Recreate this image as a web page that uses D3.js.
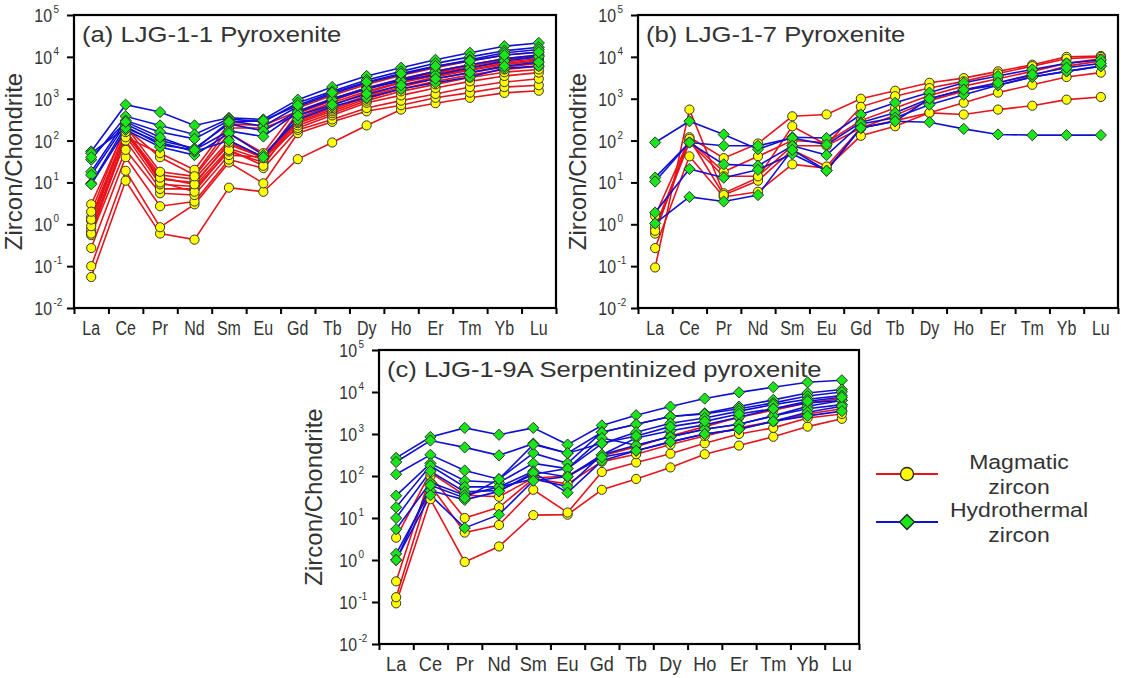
<!DOCTYPE html>
<html>
<head>
<meta charset="utf-8">
<script src="https://cdn.jsdelivr.net/npm/d3@7"></script>
<style>
  html, body { margin: 0; padding: 0; background: #fff; }
  svg { display: block; }
  text { font-family: Arial, "Liberation Sans", sans-serif; fill: #333; }
</style>
</head>
<body>
<svg id="chart" width="1121" height="678"></svg>
<script>
// Chondrite-normalised REE element order
const elements = ["La","Ce","Pr","Nd","Sm","Eu","Gd","Tb","Dy","Ho","Er","Tm","Yb","Lu"];
const yTickExponents = [-2, -1, 0, 1, 2, 3, 4, 5];

// (a) LJG-1-1 Pyroxenite
const magmaticA = [
  [0.055, 11, 0.6, 0.43, 7.5, 6, 36, 90, 230, 550, 780, 1050, 1380, 1550],
  [0.1, 19, 0.85, 3, 30, 9.5, 150, 280, 500, 700, 1050, 1400, 1900, 2100],
  [0.27, 40, 2.7, 3.5, 35, 22, 180, 320, 600, 900, 1300, 1900, 2500, 3000],
  [0.55, 60, 5.5, 5, 45, 40, 200, 400, 800, 1200, 1800, 2600, 3500, 4200],
  [0.65, 100, 7, 7, 55, 30, 230, 450, 900, 1500, 2200, 3200, 4300, 5000],
  [0.75, 130, 9, 8, 65, 35, 260, 500, 1000, 1700, 2600, 3700, 5000, 6000],
  [1.2, 150, 12, 10, 80, 40, 280, 550, 1100, 1900, 3000, 4200, 5700, 7000],
  [1.5, 170, 15, 12, 100, 40, 300, 600, 1200, 2100, 3300, 4800, 6500, 8000],
  [3, 200, 40, 15, 200, 200, 400, 800, 1500, 2500, 4000, 5500, 7500, 9000],
  [0.6, 120, 50, 20, 250, 230, 500, 1000, 1800, 3000, 4500, 6500, 9000, 11000],
  [0.9, 180, 10, 6, 60, 25, 350, 700, 1400, 2400, 3600, 5000, 7000, 8500],
  [1.3, 160, 13, 9, 90, 38, 450, 900, 1700, 2800, 4200, 6000, 8500, 10000],
  [2, 220, 18, 14, 150, 50, 600, 1200, 2200, 3600, 5500, 8000, 11000, 13000]
];
const hydrothermalA = [
  [55, 720, 480, 230, 350, 320, 950, 1900, 3500, 5500, 8500, 12500, 18000, 21500],
  [35, 380, 230, 140, 330, 280, 800, 1500, 2800, 4500, 7000, 10000, 14000, 17000],
  [18, 300, 160, 110, 300, 220, 650, 1300, 2400, 3800, 5800, 8500, 12500, 15000],
  [15, 250, 100, 65, 250, 170, 500, 1000, 1800, 2900, 4500, 6500, 9000, 11000],
  [9.5, 220, 80, 60, 170, 125, 480, 950, 1700, 2700, 3700, 5400, 8000, 10000],
  [9, 180, 70, 45, 150, 45, 320, 650, 1050, 1700, 2400, 3300, 5300, 6000],
  [50, 200, 90, 55, 100, 40, 400, 720, 1300, 2100, 3000, 4200, 6000, 7500],
  [40, 280, 120, 60, 280, 300, 700, 1400, 2500, 4000, 6000, 8000, 11000, 13000]
];

// (b) LJG-1-7 Pyroxenite
const magmaticB = [
  [0.6, 120, 38, 85, 380, 420, 1000, 1550, 2400, 3100, 4500, 6500, 10000, 10500],
  [0.093, 550, 5.5, 13, 220, 80, 640, 1150, 1800, 2600, 4000, 6000, 9000, 10000],
  [0.27, 42, 4.5, 6, 27, 22, 130, 220, 460, 800, 1400, 2150, 3300, 4200],
  [0.85, 100, 18, 42, 100, 90, 300, 600, 1200, 2000, 3000, 4500, 7000, 9000],
  [1.6, 110, 5, 11, 60, 24, 200, 300, 460, 420, 550, 680, 950, 1100],
  [0.7, 90, 14, 14, 75, 75, 200, 400, 900, 1500, 2400, 3600, 6000, 8000]
];
const hydrothermalB = [
  [90, 290, 140, 62, 120, 115, 420, 800, 1400, 2400, 3500, 5000, 7000, 8500],
  [13, 90, 75, 75, 115, 80, 270, 460, 1000, 1640, 2100, 3300, 4500, 6000],
  [10.5, 90, 27, 25, 75, 45, 250, 350, 720, 1250, 2100, 3300, 4500, 6000],
  [1.9, 21, 13, 20, 48, 19, 200, 290, 1000, 1640, 2400, 3800, 5500, 7000],
  [1.05, 4.5, 3.5, 5, 60, 19, 200, 290, 275, 190, 140, 135, 135, 135]
];

// (c) LJG-1-9A Serpentinized pyroxenite
const magmaticC = [
  [0.093, 28, 0.9, 2.1, 11.7, 12, 47, 85, 160, 330, 530, 860, 1500, 2300],
  [0.13, 60, 4.5, 6.8, 47, 13.5, 125, 210, 340, 600, 1000, 1400, 2400, 3000],
  [0.31, 100, 10, 18, 85, 65, 220, 330, 560, 900, 1400, 2000, 3000, 4000],
  [3.4, 120, 35, 32, 90, 100, 300, 500, 900, 1500, 2500, 3700, 5500, 7000]
];
const hydrothermalC = [
  [270, 850, 1400, 960, 1400, 560, 1600, 2800, 4500, 7000, 9800, 13000, 17000, 19000],
  [215, 700, 480, 310, 590, 350, 1100, 1700, 2600, 3100, 4500, 6500, 9500, 11500],
  [110, 320, 135, 84, 350, 200, 1100, 1700, 2600, 3000, 4000, 5500, 8000, 10000],
  [34, 200, 77, 70, 200, 150, 590, 1100, 1800, 2400, 3500, 5000, 6700, 8200],
  [18, 175, 55, 55, 130, 95, 320, 800, 1200, 1650, 2500, 4000, 5500, 6300],
  [10, 130, 42, 45, 110, 150, 800, 540, 860, 1300, 1700, 2700, 4600, 6300],
  [5.4, 70, 35, 55, 85, 56, 320, 540, 860, 1300, 1700, 2700, 4000, 5000],
  [1.4, 45, 27, 43, 120, 40, 230, 400, 650, 1000, 1300, 2000, 3300, 4600],
  [1.0, 35, 5.8, 12, 77, 97, 280, 400, 650, 1000, 1300, 2000, 2700, 3500],
  [1.0, 60, 30, 84, 560, 350, 600, 900, 1500, 2000, 3000, 4000, 6000, 7500]
];

const RED = "#e8131b", BLUE = "#1010d2", YELLOW = "#ffff00", GREEN = "#19e619";

const svg = d3.select("#chart");

function diamondPath(r) {
  return `M0,${-r}L${r},0L0,${r}L${-r},0Z`;
}

// text with a horizontal scale factor (wide / condensed lettering)
function label(parent, x, y, str, size, sx, anchor) {
  return parent.append("text")
    .attr("transform", `translate(${x},${y}) scale(${sx},1)`)
    .attr("text-anchor", anchor || "start")
    .attr("font-size", size)
    .text(str);
}

function drawPanel(cfg) {
  const g = svg.append("g").attr("transform", `translate(${cfg.left},${cfg.top})`);
  const w = cfg.width, h = cfg.height;

  const x = d3.scalePoint().domain(elements).range([w / 28, w - w / 28]);
  const xb = d3.scaleLinear().domain([0, elements.length]).range([0, w]);
  const y = d3.scaleLog().domain([1e-2, 1e5]).range([h, 0]);

  const clip = "clip-" + cfg.id;
  g.append("clipPath").attr("id", clip).append("rect").attr("width", w).attr("height", h);

  // bottom axis: ticks at element boundaries
  const xAxis = g.append("g").attr("transform", `translate(0,${h})`)
    .call(d3.axisBottom(xb).tickValues(d3.range(0, elements.length + 1)).tickFormat("").tickSizeOuter(0).tickSize(6));
  xAxis.select(".domain").remove();
  xAxis.selectAll("line").attr("stroke", "#000").attr("stroke-width", 2);

  const xl = g.append("g");
  elements.forEach(d => label(xl, x(d), h + 27, d, cfg.xLabelSize, cfg.xLabelScale, "middle"));

  // left axis: decades with superscript labels
  const yAxis = g.append("g")
    .call(d3.axisLeft(y).tickValues(yTickExponents.map(e => Math.pow(10, e))).tickFormat("").tickSizeOuter(0).tickSize(7));
  yAxis.select(".domain").remove();
  yAxis.selectAll("line").attr("stroke", "#000").attr("stroke-width", 2);

  const yl = g.append("g");
  yTickExponents.forEach(e => {
    const yy = y(Math.pow(10, e));
    label(yl, -22, yy + 7, "10", 18.5, 0.86, "end");
    label(yl, -20.5, yy - 2, String(e), 11, 0.9, "start");
  });

  g.append("text")
    .attr("transform", `translate(${-cfg.left + cfg.titleX},${h / 2}) rotate(-90)`)
    .attr("text-anchor", "middle").attr("font-size", 24)
    .text("Zircon/Chondrite");

  // series lines
  const line = d3.line().x((d, i) => x(elements[i])).y(d => y(d));
  const plot = g.append("g").attr("clip-path", `url(#${clip})`);
  plot.selectAll(".mag").data(cfg.magmatic).join("path")
    .attr("d", line).attr("fill", "none").attr("stroke", RED).attr("stroke-width", 1.6);
  plot.selectAll(".hyd").data(cfg.hydrothermal).join("path")
    .attr("d", line).attr("fill", "none").attr("stroke", BLUE).attr("stroke-width", 1.6);

  // markers
  cfg.magmatic.forEach(s => {
    g.append("g").selectAll("circle").data(s).join("circle")
      .attr("cx", (d, i) => x(elements[i])).attr("cy", d => y(d)).attr("r", 4.6)
      .attr("fill", YELLOW).attr("stroke", "#333").attr("stroke-width", 1);
  });
  cfg.hydrothermal.forEach(s => {
    g.append("g").selectAll("path").data(s).join("path")
      .attr("transform", (d, i) => `translate(${x(elements[i])},${y(d)})`)
      .attr("d", diamondPath(5.6))
      .attr("fill", GREEN).attr("stroke", "#333").attr("stroke-width", 1);
  });

  // frame
  g.append("rect").attr("width", w).attr("height", h)
    .attr("fill", "none").attr("stroke", "#000").attr("stroke-width", 2.2);

  label(g, 8, 27, cfg.title, 22.5, 1.14, "start");
}

drawPanel({ id: "a", left: 74, top: 15, width: 482, height: 293, titleX: 22,
  xLabelSize: 19.5, xLabelScale: 0.82,
  title: "(a) LJG-1-1 Pyroxenite", magmatic: magmaticA, hydrothermal: hydrothermalA });
drawPanel({ id: "b", left: 638, top: 15, width: 480, height: 293, titleX: 586,
  xLabelSize: 19.5, xLabelScale: 0.82,
  title: "(b) LJG-1-7 Pyroxenite", magmatic: magmaticB, hydrothermal: hydrothermalB });
drawPanel({ id: "c", left: 379, top: 350, width: 480, height: 294, titleX: 322,
  xLabelSize: 19.5, xLabelScale: 0.93,
  title: "(c) LJG-1-9A Serpentinized pyroxenite", magmatic: magmaticC, hydrothermal: hydrothermalC });

// legend
const legend = svg.append("g");
const legendItems = [
  { color: RED, y: 474, marker: "circle", lines: ["Magmatic", "zircon"], ty: 462 },
  { color: BLUE, y: 522, marker: "diamond", lines: ["Hydrothermal", "zircon"], ty: 510 }
];
legendItems.forEach(it => {
  legend.append("line").attr("x1", 876).attr("x2", 938).attr("y1", it.y).attr("y2", it.y)
    .attr("stroke", it.color).attr("stroke-width", 2);
  if (it.marker === "circle") {
    legend.append("circle").attr("cx", 907).attr("cy", it.y).attr("r", 6.5)
      .attr("fill", YELLOW).attr("stroke", "#222").attr("stroke-width", 1.3);
  } else {
    legend.append("path").attr("transform", `translate(907,${it.y})`).attr("d", diamondPath(7.5))
      .attr("fill", GREEN).attr("stroke", "#222").attr("stroke-width", 1.3);
  }
  it.lines.forEach((t, k) => label(legend, 1019, it.ty + 7 + k * 25, t, 19.5, 1.18, "middle"));
});
</script>
</body>
</html>
